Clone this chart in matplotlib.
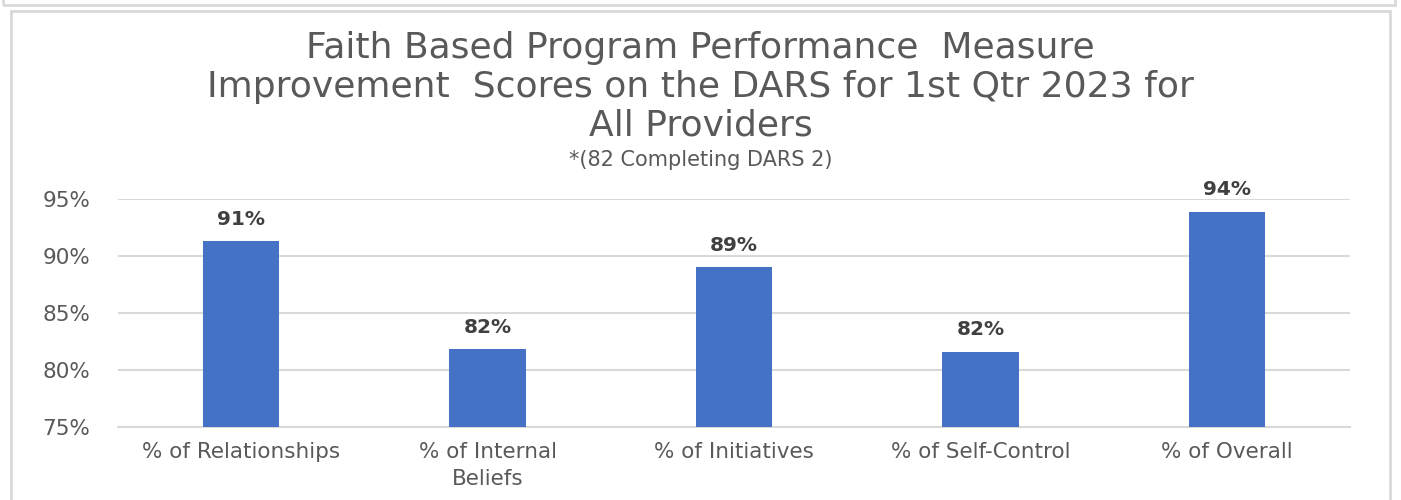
import numpy as np
import matplotlib.pyplot as plt
import matplotlib.patches as patches

plt.rcParams['font.family'] = ['DejaVu Sans']

# ---- data ----
categories = ['% of Relationships', '% of Internal\nBeliefs', '% of Initiatives',
              '% of Self-Control', '% of Overall']
scores = [91.3, 81.8, 89.0, 81.6, 93.9]
bar_labels = ['91%', '82%', '89%', '82%', '94%']
y_ticks = [75, 80, 85, 90, 95]

fig = plt.figure(figsize=(14.01, 5.0), dpi=100)

# chart frames (previous box bottom + this chart's border)
fig.add_artist(patches.Rectangle((0.002, 0.99), 0.994, 0.2, transform=fig.transFigure,
                                 fill=False, edgecolor='#d9d9d9', linewidth=2))
fig.add_artist(patches.Rectangle((0.008, -0.1), 0.984, 1.078, transform=fig.transFigure,
                                 fill=False, edgecolor='#d9d9d9', linewidth=2))

ax = fig.add_axes([0.0842, 0.146, 0.8794, 0.456])
x = np.arange(len(categories))
ax.bar(x, scores, width=0.31, color='#4472C4', zorder=3)

for xi, v, lab in zip(x, scores, bar_labels):
    ax.text(xi, v + 1.1, lab, ha='center', va='bottom', fontsize=14.5,
            fontweight='bold', color='#404040')

ax.set_xlim(-0.5, len(categories) - 0.5)
ax.set_ylim(75, 95)
ax.set_yticks(y_ticks)
ax.set_yticklabels([f'{t}%' for t in y_ticks])
ax.set_xticks(x)
ax.set_xticklabels(categories, linespacing=1.4)
ax.tick_params(axis='both', length=0, labelsize=15.5, colors='#595959')
ax.tick_params(axis='y', pad=20)
ax.tick_params(axis='x', pad=11)
ax.yaxis.grid(True, color='#d9d9d9', linewidth=1.5, zorder=0)
for s in ['top', 'right', 'left']:
    ax.spines[s].set_visible(False)
ax.spines['bottom'].set_color('#d9d9d9')
ax.spines['bottom'].set_linewidth(1.5)

fig.text(0.5, 0.826, 'Faith Based Program Performance  Measure\n'
         'Improvement  Scores on the DARS for 1st Qtr 2023 for\nAll Providers',
         ha='center', va='center', fontsize=26, color='#595959', linespacing=1.18)
fig.text(0.5, 0.68, '*(82 Completing DARS 2)', ha='center', va='center',
         fontsize=15, color='#595959')

fig.savefig('out.png', dpi=100)
